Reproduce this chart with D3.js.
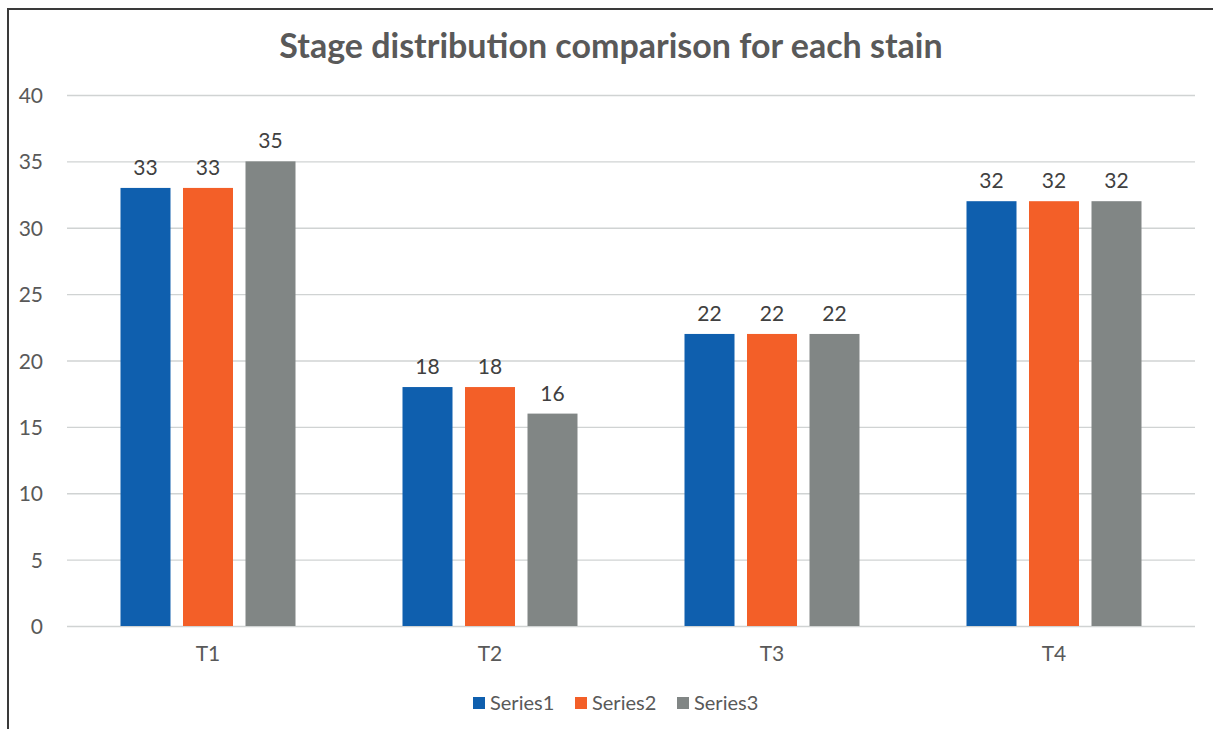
<!DOCTYPE html>
<html>
<head>
<meta charset="utf-8">
<script src="https://cdn.jsdelivr.net/npm/d3@7"></script>
<style>
  html, body { margin: 0; padding: 0; background: #fff; }
  svg { display: block; }
  svg text { font-family: Lato, "Open Sans", sans-serif; }
</style>
</head>
<body>
<div id="chart"></div>
<script>
// data
const categories = ["T1", "T2", "T3", "T4"];
const seriesNames = ["Series1", "Series2", "Series3"];
const series1 = [33, 18, 22, 32];
const series2 = [33, 18, 22, 32];
const series3 = [35, 16, 22, 32];
const yTicks = [0, 5, 10, 15, 20, 25, 30, 35, 40];
const colors = ["#0f5fae", "#f35f28", "#818685"];

const allSeries = [series1, series2, series3];

const width = 1213, height = 729;
const margin = { top: 95, right: 18, bottom: 103, left: 67 };
const plotW = width - margin.left - margin.right;
const plotH = height - margin.top - margin.bottom;

const svg = d3.select("#chart").append("svg")
    .attr("width", width)
    .attr("height", height);

// rahmen (nur oben/links sichtbar)
svg.append("rect")
    .attr("x", 8).attr("y", 9)
    .attr("width", width + 20).attr("height", height + 20)
    .attr("fill", "#fff")
    .attr("stroke", "#3a3a3a")
    .attr("stroke-width", 2);

const g = svg.append("g").attr("transform", `translate(${margin.left},${margin.top})`);

const x0 = d3.scaleBand().domain(categories).range([0, plotW]);
const barW = 50, gapIn = 12.5;
const y = d3.scaleLinear().domain([0, 40]).range([plotH, 0]);

// grid
g.append("g")
    .call(d3.axisLeft(y).tickValues(yTicks).tickSize(-plotW).tickFormat(""))
    .call(s => s.select(".domain").remove())
    .selectAll("line")
    .attr("stroke", "#d0d3d3")
    .attr("stroke-width", 1.3);

// y labels
g.append("g")
    .call(d3.axisLeft(y).tickValues(yTicks).tickSize(0).tickPadding(24))
    .call(s => s.select(".domain").remove())
    .selectAll("text")
    .attr("dy", "0.36em")
    .style("font-size", "21px")
    .style("fill", "#595959");

// x labels
g.append("g")
    .attr("transform", `translate(0,${plotH})`)
    .call(d3.axisBottom(x0).tickSize(0).tickPadding(20))
    .call(s => s.select(".domain").remove())
    .selectAll("text")
    .style("font-size", "21px")
    .style("fill", "#595959");

// bars
const groupW = 3 * barW + 2 * gapIn;
allSeries.forEach((vals, si) => {
    const xs = c => x0(c) + x0.bandwidth() / 2 - groupW / 2 + si * (barW + gapIn);
    g.selectAll(".bar" + si)
        .data(categories.map((c, i) => ({ c, v: vals[i] })))
        .enter().append("rect")
        .attr("x", d => xs(d.c))
        .attr("y", d => y(d.v))
        .attr("width", barW)
        .attr("height", d => plotH - y(d.v))
        .attr("fill", colors[si]);

    g.selectAll(".lbl" + si)
        .data(categories.map((c, i) => ({ c, v: vals[i] })))
        .enter().append("text")
        .attr("x", d => xs(d.c) + barW / 2)
        .attr("y", d => y(d.v) - 13)
        .attr("text-anchor", "middle")
        .style("font-size", "21px")
        .style("fill", "#404040")
        .text(d => d.v);
});

// title
svg.append("text")
    .attr("x", 611)
    .attr("y", 58)
    .attr("text-anchor", "middle")
    .style("font-size", "34px")
    .style("font-weight", "700")
    .style("fill", "#595959")
    .text("Stage distribution comparison for each stain");

// legend
const legendX = [473, 575, 677];
const legend = svg.append("g");
seriesNames.forEach((name, i) => {
    legend.append("rect")
        .attr("x", legendX[i]).attr("y", 697)
        .attr("width", 12).attr("height", 12)
        .attr("fill", colors[i]);
    legend.append("text")
        .attr("x", legendX[i] + 17).attr("y", 710)
        .style("font-size", "20px")
        .style("fill", "#595959")
        .text(name);
});
</script>
</body>
</html>
